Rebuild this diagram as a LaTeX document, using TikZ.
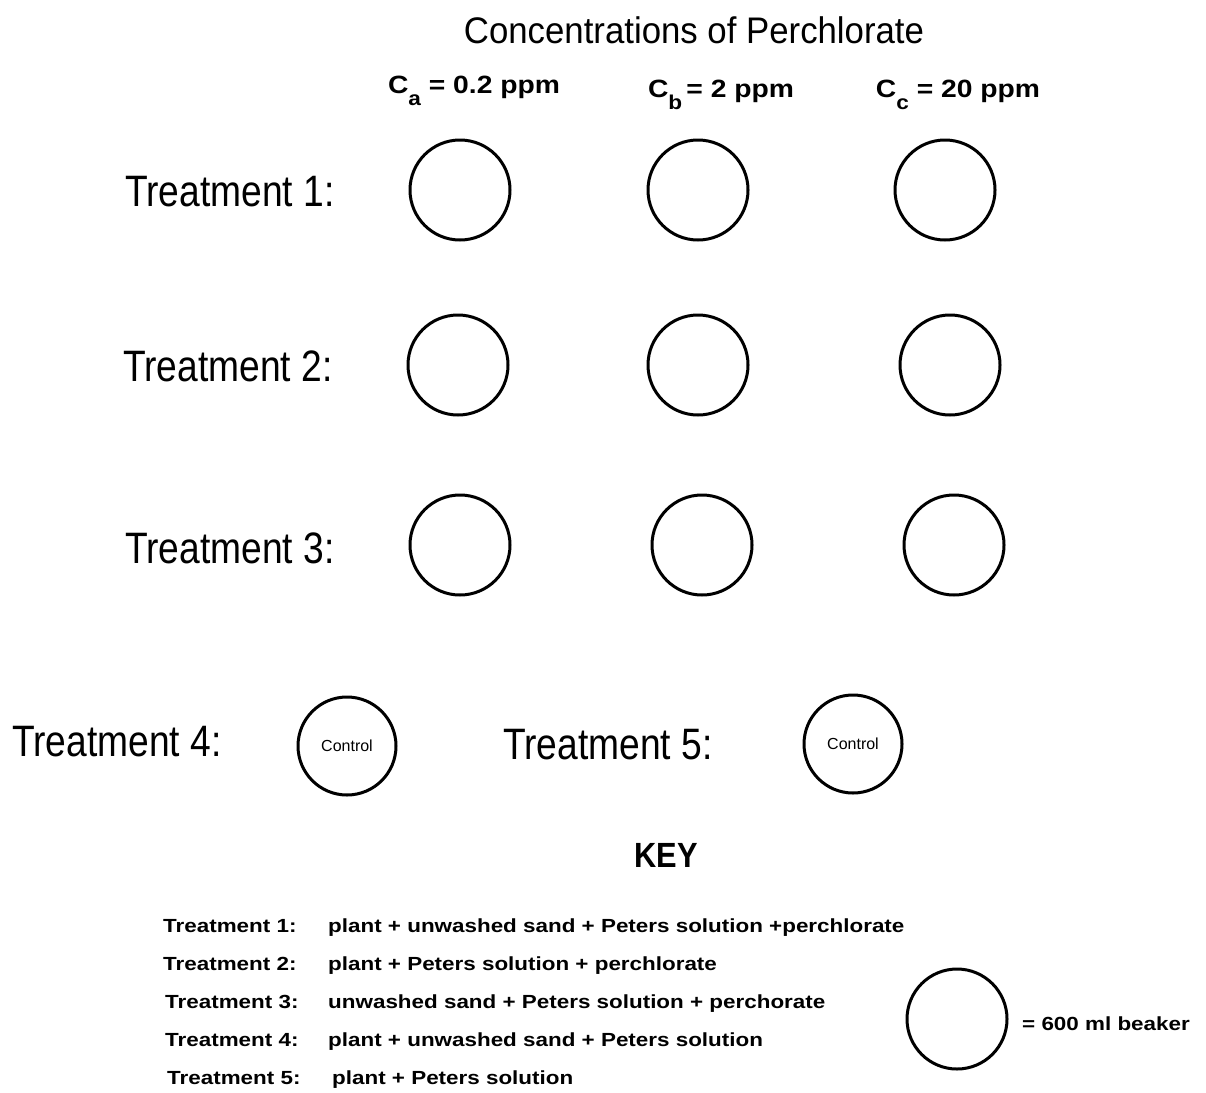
\documentclass[tikz,border=0pt]{standalone}
\usepackage{fontspec}
\usepackage{tikz}
\setmainfont{Liberation Sans}
\newfontfamily\titlefont[FakeStretch=0.94]{Liberation Sans}
\newfontfamily\treatfont[FakeStretch=0.845]{Liberation Sans}
\newfontfamily\headfont[FakeStretch=0.88]{Liberation Sans}
\newfontfamily\concfont[FakeStretch=1.13]{Liberation Sans}
\newfontfamily\keyfont[FakeStretch=1.18]{Liberation Sans}
\newcommand{\lowsub}[1]{\raisebox{-12pt}{\fontsize{20}{20}\selectfont #1}}

\begin{document}
\begin{tikzpicture}[
  x=1pt,y=-1pt,
  beaker/.style={draw,circle,line width=3pt,minimum size=100pt,inner sep=0pt},
  ctrlbeaker/.style={beaker,minimum size=98pt,font=\fontsize{16}{16}\selectfont},
  treat/.style={anchor=west,inner sep=0pt,font=\treatfont\fontsize{44}{44}\selectfont},
  conc/.style={anchor=base,inner sep=0pt,font=\concfont\bfseries\fontsize{25}{25}\selectfont},
  keyline/.style={anchor=base west,inner sep=0pt,font=\keyfont\bfseries\fontsize{19}{19}\selectfont}
]
\useasboundingbox (0,0) rectangle (1206,1092);
\node[inner sep=0pt,font=\titlefont\fontsize{37}{37}\selectfont] (title) at (694,30) {Concentrations of Perchlorate};
\node[conc] (ca) at (474,93) {C\lowsub{a} = 0.2 ppm};
\node[conc] (cb) at (721,97) {C\lowsub{b}\,= 2 ppm};
\node[conc] (cc) at (958,97) {C\lowsub{c} = 20 ppm};
% treatments with perchlorate
\node[treat] (t1) at (125,192) {Treatment 1:};
\node[treat] (t2) at (123,366) {Treatment 2:};
\node[treat] (t3) at (125,548) {Treatment 3:};
\node[beaker] (t1a) at (460,190) {};
\node[beaker] (t1b) at (698,190) {};
\node[beaker] (t1c) at (945,190) {};
\node[beaker] (t2a) at (458,365) {};
\node[beaker] (t2b) at (698,365) {};
\node[beaker] (t2c) at (950,365) {};
\node[beaker] (t3a) at (460,545) {};
\node[beaker] (t3b) at (702,545) {};
\node[beaker] (t3c) at (954,545) {};
% controls
\node[treat] (t4) at (12,742) {Treatment 4:};
\node[ctrlbeaker] (c4) at (347,746) {Control};
\node[treat] (t5) at (503,745) {Treatment 5:};
\node[ctrlbeaker] (c5) at (853,744) {Control};
% key
\node[inner sep=0pt,font=\headfont\bfseries\fontsize{35}{35}\selectfont] (key) at (666,855) {KEY};
\node[keyline] (k1) at (163,932) {Treatment 1:};
\node[keyline] (k2) at (163,970) {Treatment 2:};
\node[keyline] (k3) at (165,1008) {Treatment 3:};
\node[keyline] (k4) at (165,1046) {Treatment 4:};
\node[keyline] (k5) at (167,1084) {Treatment 5:};
\node[keyline] (d1) at (328,932) {plant + unwashed sand + Peters solution +perchlorate};
\node[keyline] (d2) at (328,970) {plant + Peters solution + perchlorate};
\node[keyline] (d3) at (328,1008) {unwashed sand + Peters solution + perchorate};
\node[keyline] (d4) at (328,1046) {plant + unwashed sand + Peters solution};
\node[keyline] (d5) at (332,1084) {plant + Peters solution};
\node[beaker] (kb) at (957,1019) {};
\node[keyline] (kbtext) at (1022,1030) {= 600 ml beaker};
\end{tikzpicture}
\end{document}
